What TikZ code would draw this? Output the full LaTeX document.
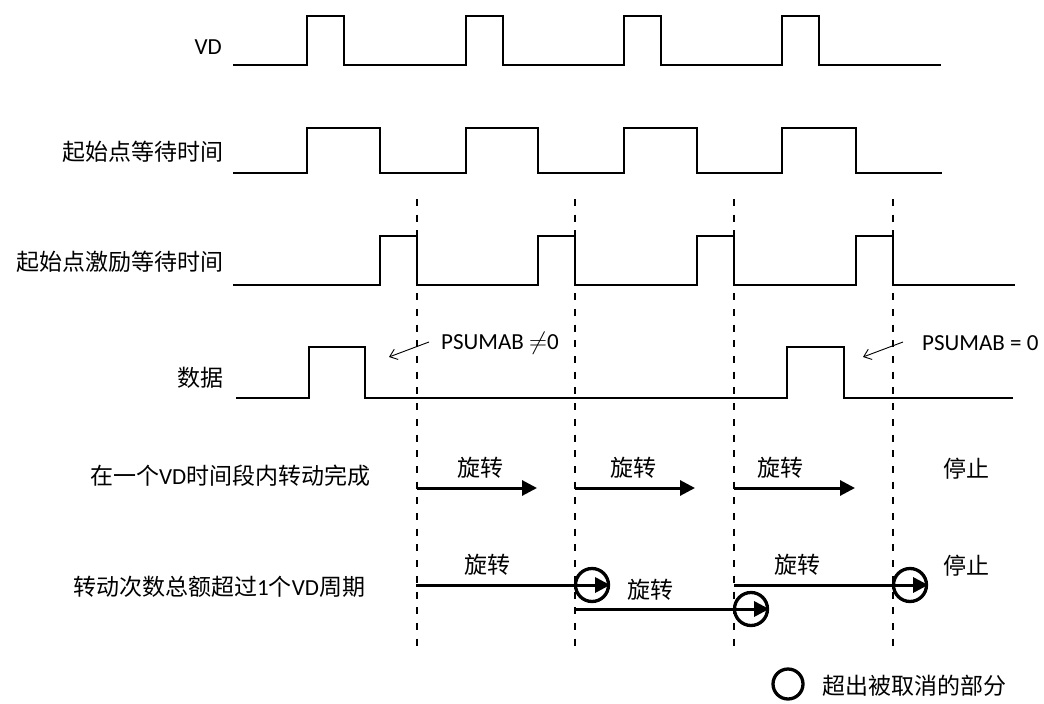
\documentclass[tikz,border=0pt]{standalone}
\usepackage{fontspec}
\setmainfont{Carlito}
\newfontfamily\cjk{Noto Sans CJK SC}
\usetikzlibrary{arrows.meta}
\tikzset{
  wave/.style={line width=2pt, line join=miter},
  guide/.style={line width=1.2pt, dash pattern=on 7pt off 8.7pt},
  bigarrow/.style={line width=3pt, -{Triangle[length=15pt,width=15pt]}},
  notearrow/.style={line width=0.9pt, -{Straight Barb[length=7pt,width=11pt]}},
  cutmark/.style={circle, draw, line width=3.3pt, minimum size=33pt, inner sep=0pt},
  lbl/.style={inner sep=0pt, font=\fontsize{23}{28}\selectfont},
}
\begin{document}
\begin{tikzpicture}[x=1pt,y=-1pt]
\useasboundingbox (0,0) rectangle (1044,704);
% row labels
\node[lbl, anchor=east] (lvd) at (222,47) {VD};
\node[lbl, anchor=east] (lwait) at (224,152) {\cjk 起始点等待时间};
\node[lbl, anchor=east] (lexc) at (224,262) {\cjk 起始点激励等待时间};
\node[lbl, anchor=east] (ldata) at (224,378) {\cjk 数据};
\node[lbl, anchor=west] (lone) at (90,476) {{\cjk 在一个}VD{\cjk 时间段内转动完成}};
\node[lbl, anchor=west] (lover) at (73,587) {{\cjk 转动次数总额超过}1{\cjk 个}VD{\cjk 周期}};
% waveforms
\draw[wave] (233,65) -- (307,65) -- (307,16) -- (344,16) -- (344,65) -- (466,65) -- (466,16) -- (503,16) -- (503,65)
  -- (624,65) -- (624,16) -- (661,16) -- (661,65) -- (782,65) -- (782,16) -- (819,16) -- (819,65) -- (941,65);
\draw[wave] (233,173) -- (307,173) -- (307,128) -- (380,128) -- (380,173) -- (466,173) -- (466,128) -- (538,128) -- (538,173)
  -- (624,173) -- (624,128) -- (697,128) -- (697,173) -- (782,173) -- (782,128) -- (856,128) -- (856,173) -- (942,173);
\draw[wave] (233,285) -- (380,285) -- (380,236) -- (417,236) -- (417,285) -- (538,285) -- (538,236) -- (575,236) -- (575,285)
  -- (697,285) -- (697,236) -- (734,236) -- (734,285) -- (856,285) -- (856,236) -- (893,236) -- (893,285) -- (1015,285);
\draw[wave] (236,398) -- (309,398) -- (309,347) -- (365,347) -- (365,398) -- (787,398) -- (787,347) -- (844,347) -- (844,398) -- (1013,398);
% dashed guides
\foreach \gx/\gn in {417/ga,575/gb,734/gc,893/gd}{
  \coordinate (\gn top) at (\gx,199);
  \coordinate (\gn bot) at (\gx,653);
  \draw[guide] (\gn top) -- (\gn bot);
}
% PSUMAB notes
\node[lbl, anchor=west] (pne) at (441,343) {PSUMAB $\neq$0};
\node[lbl, anchor=west] (peq) at (922,343) {PSUMAB = 0};
\coordinate (pnetail) at (429,342);
\coordinate (pnetip) at (389,357);
\coordinate (peqtail) at (903,342);
\coordinate (peqtip) at (863,357);
\draw[notearrow] (pnetail) -- (pnetip);
\draw[notearrow] (peqtail) -- (peqtip);
% row 5: rotation completes within one VD
\coordinate (a1s) at (417,488); \coordinate (a1e) at (537,488);
\coordinate (a2s) at (575,488); \coordinate (a2e) at (695,488);
\coordinate (a3s) at (734,488); \coordinate (a3e) at (855,488);
\draw[bigarrow] (a1s) -- (a1e);
\draw[bigarrow] (a2s) -- (a2e);
\draw[bigarrow] (a3s) -- (a3e);
\node[lbl] (t1) at (480,468) {\cjk 旋转};
\node[lbl] (t2) at (633,468) {\cjk 旋转};
\node[lbl] (t3) at (780,468) {\cjk 旋转};
\node[lbl] (t4) at (966,469) {\cjk 停止};
% row 6: rotation exceeds one VD period
\node[cutmark] (c1) at (592,585) {};
\node[cutmark] (c2) at (751,609) {};
\node[cutmark] (c3) at (910,585) {};
\coordinate (b1s) at (416,585);
\coordinate (b2s) at (575,609);
\coordinate (b3s) at (734,585);
\draw[bigarrow] (b1s) -- (c1.east);
\draw[bigarrow] (b2s) -- (c2.east);
\draw[bigarrow] (b3s) -- (c3.east);
\node[lbl] (u1) at (487,565) {\cjk 旋转};
\node[lbl] (u2) at (650,590) {\cjk 旋转};
\node[lbl] (u3) at (797,565) {\cjk 旋转};
\node[lbl] (u4) at (966,566) {\cjk 停止};
% legend
\node[circle, draw, line width=3.3pt, minimum size=30pt, inner sep=0pt] (lc) at (788,684) {};
\node[lbl, anchor=west] (lt) at (822,686) {\cjk 超出被取消的部分};
\end{tikzpicture}
\end{document}
